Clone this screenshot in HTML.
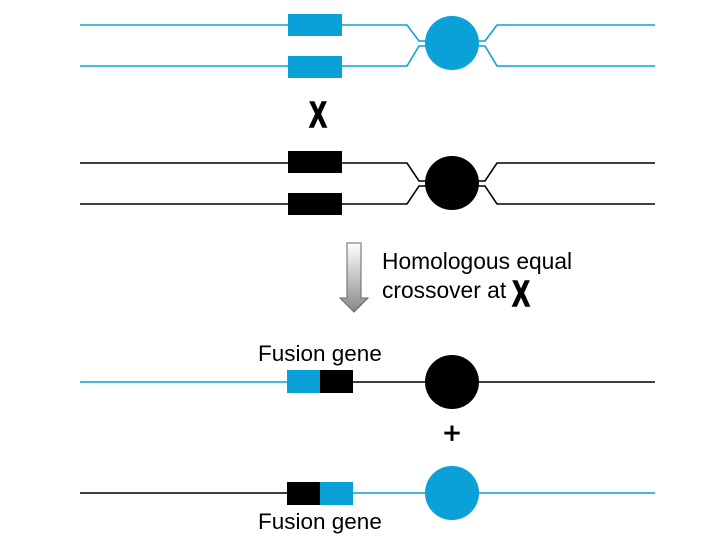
<!DOCTYPE html>
<html><head><style>body{margin:0;background:#fff}svg{display:block}</style></head><body>
<svg width="720" height="540" viewBox="0 0 720 540" xmlns="http://www.w3.org/2000/svg">
<defs><linearGradient id="g2" x1="0" x2="0" y1="0" y2="1"><stop offset="0" stop-color="#fff"/><stop offset="1" stop-color="#888"/></linearGradient></defs>
<g fill="none" stroke="#0aa0d8" stroke-width="1.6">
<polyline points="80,25 407,25 419,41 485,41 497,25 655,25"/>
<polyline points="80,66 407,66 419,46 485,46 497,66 655,66"/>
</g>
<rect x="288" y="14" width="54" height="22" fill="#0aa0d8"/>
<rect x="288" y="56" width="54" height="22" fill="#0aa0d8"/>
<circle cx="452" cy="43" r="27" fill="#0aa0d8"/>
<g fill="none" stroke="#000" stroke-width="1.6">
<polyline points="80,163 407,163 419,181 485,181 497,163 655,163"/>
<polyline points="80,204 407,204 419,186 485,186 497,204 655,204"/>
</g>
<rect x="288" y="151" width="54" height="22" fill="#000"/>
<rect x="288" y="193" width="54" height="22" fill="#000"/>
<circle cx="452" cy="183" r="27" fill="#000"/>
<text font-family="Liberation Sans, sans-serif" font-weight="bold" font-size="36" text-anchor="middle" stroke="#000" stroke-width="1.5" transform="translate(318,127) scale(0.72,1)">X</text>
<path d="M347,243 H361 V298 H368 L354,312 L340,298 H347 Z" fill="url(#g2)" stroke="#666" stroke-width="1"/>
<text x="382" y="269" font-family="Liberation Sans, sans-serif" font-size="22.8">Homologous equal</text>
<text x="382" y="298" font-family="Liberation Sans, sans-serif" font-size="22.8">crossover at</text>
<text font-family="Liberation Sans, sans-serif" font-weight="bold" font-size="36" text-anchor="middle" stroke="#000" stroke-width="1.5" transform="translate(521,306) scale(0.72,1)">X</text>
<text x="258" y="361" font-family="Liberation Sans, sans-serif" font-size="22.5">Fusion gene</text>
<line x1="80" y1="382" x2="288" y2="382" stroke="#0aa0d8" stroke-width="1.6"/>
<line x1="352" y1="382" x2="655" y2="382" stroke="#000" stroke-width="1.6"/>
<rect x="287" y="370" width="33" height="23" fill="#0aa0d8"/>
<rect x="320" y="370" width="33" height="23" fill="#000"/>
<circle cx="452" cy="382" r="27" fill="#000"/>
<text x="452" y="443" font-family="Liberation Sans, sans-serif" font-size="30" text-anchor="middle" stroke="#000" stroke-width="0.8">+</text>
<line x1="80" y1="493" x2="288" y2="493" stroke="#000" stroke-width="1.6"/>
<line x1="352" y1="493" x2="655" y2="493" stroke="#0aa0d8" stroke-width="1.6"/>
<rect x="287" y="482" width="33" height="23" fill="#000"/>
<rect x="320" y="482" width="33" height="23" fill="#0aa0d8"/>
<circle cx="452" cy="493" r="27" fill="#0aa0d8"/>
<text x="258" y="529" font-family="Liberation Sans, sans-serif" font-size="22.5">Fusion gene</text>
</svg>
</body></html>
